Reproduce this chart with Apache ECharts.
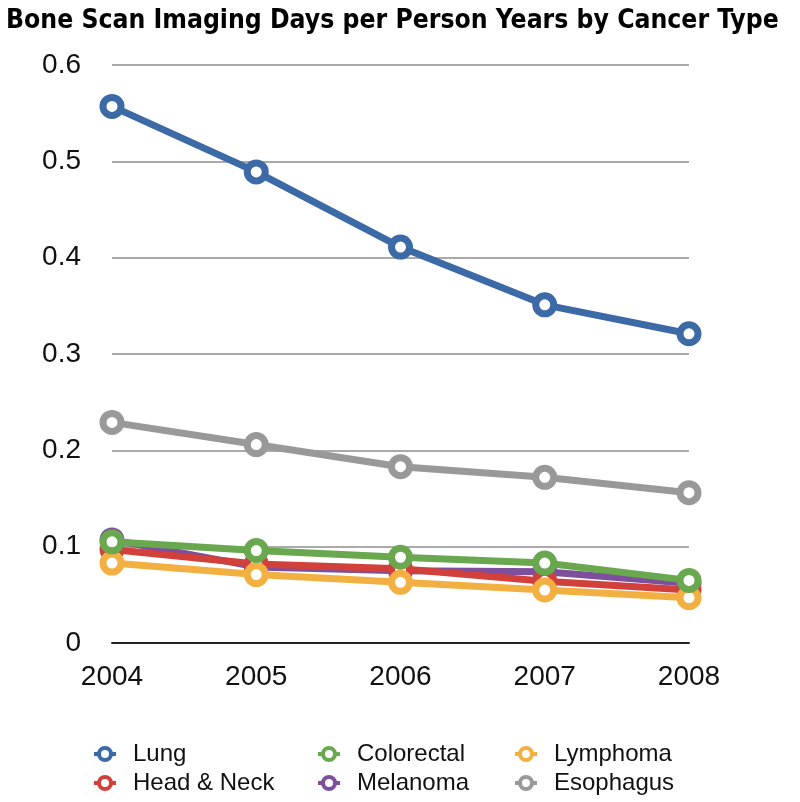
<!DOCTYPE html>
<html><head><meta charset="utf-8">
<script src="https://cdn.jsdelivr.net/npm/echarts@6/dist/echarts.min.js"></script>
<style>html,body{margin:0;padding:0;background:#fff}#c{width:800px;height:802px}</style>
</head><body><div id="c"></div>
<script>
var years = ['2004','2005','2006','2007','2008'];
var lung = [0.557, 0.489, 0.411, 0.351, 0.321];
var headNeck = [0.097, 0.082, 0.077, 0.064, 0.055];
var colorectal = [0.105, 0.096, 0.089, 0.083, 0.065];
var melanoma = [0.107, 0.079, 0.075, 0.074, 0.062];
var lymphoma = [0.083, 0.071, 0.063, 0.055, 0.047];
var esophagus = [0.229, 0.206, 0.183, 0.172, 0.156];

var font = 'Liberation Sans, Arial, Helvetica, sans-serif';
function mk(name, data, color, z) {
  return {
    name: name, type: 'line', data: data, z: z,
    symbol: 'circle', symbolSize: 18,
    lineStyle: {color: color, width: 7},
    itemStyle: {color: '#fff', borderColor: color, borderWidth: 7},
    emphasis: {disabled: true}
  };
}
var chart = echarts.init(document.getElementById('c'));
function leg(name, left, top) {
  return {orient: 'horizontal', left: left, top: top, padding: 0, itemWidth: 22, itemHeight: 15,
    data: [name], selectedMode: false,
    lineStyle: {width: 4}, itemStyle: {borderWidth: 4},
    textStyle: {fontSize: 24, color: '#111', fontFamily: font, padding: [0,0,0,12]}};
}
chart.setOption({
  animation: false,
  title: {text: 'Bone Scan Imaging Days per Person Years by Cancer Type', left: 1, top: 3,
    textStyle: {fontFamily: 'DejaVu Sans Condensed, sans-serif', fontWeight: 'bold', fontSize: 26.3, color: '#000'}},
  grid: {left: 112, right: 111, top: 65, bottom: 159},
  legend: [
    leg('Lung', 92, 742), leg('Head & Neck', 92, 771),
    leg('Colorectal', 316, 742), leg('Melanoma', 316, 771),
    leg('Lymphoma', 513, 742), leg('Esophagus', 513, 771)
  ],
  xAxis: {type: 'category', data: years, boundaryGap: false,
    axisLine: {lineStyle: {color: '#222', width: 2}}, axisTick: {show: false},
    axisLabel: {fontSize: 28, color: '#111', fontFamily: font, margin: 20}},
  yAxis: {type: 'value', min: 0, max: 0.6, interval: 0.1,
    axisLine: {show: false}, axisTick: {show: false},
    splitLine: {lineStyle: {color: '#aaaaaa', width: 2}},
    axisLabel: {fontSize: 28, color: '#111', fontFamily: font, margin: 31}},
  series: [
    mk('Lung', lung, '#3b6aa6', 6),
    mk('Head & Neck', headNeck, '#d1403a', 3),
    mk('Colorectal', colorectal, '#69a84f', 5),
    mk('Melanoma', melanoma, '#7d4f9c', 2),
    mk('Lymphoma', lymphoma, '#f2b043', 4),
    mk('Esophagus', esophagus, '#999999', 6)
  ]
});
</script></body></html>
